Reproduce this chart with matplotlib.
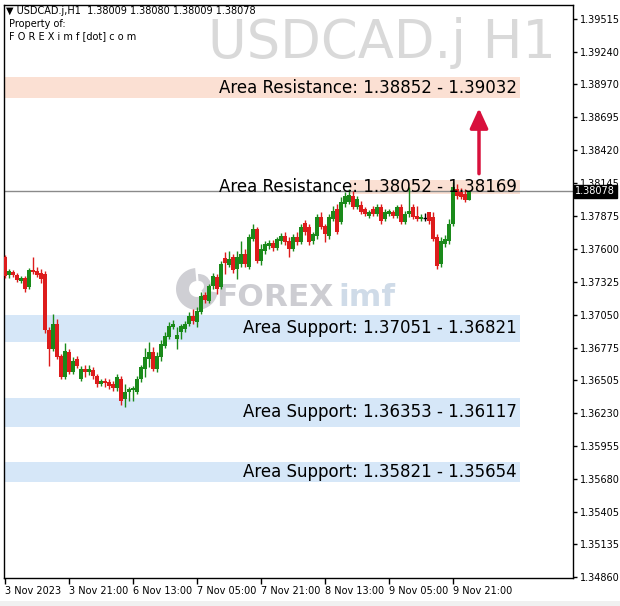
import matplotlib
matplotlib.use('Agg')
import matplotlib.pyplot as plt
from matplotlib.patches import Rectangle, Wedge
from matplotlib.transforms import blended_transform_factory, IdentityTransform

# ---------------- data ----------------
opens = [1.37529, 1.37379, 1.37404, 1.37379, 1.37330, 1.37355, 1.37280, 1.37421, 1.37413, 1.37396,
         1.37388, 1.36922, 1.36765, 1.36972, 1.36706, 1.36532, 1.36740, 1.36573, 1.36681, 1.36515,
         1.36598, 1.36573, 1.36590, 1.36540, 1.36474, 1.36499, 1.36490, 1.36474, 1.36440, 1.36515,
         1.36349, 1.36407, 1.36424, 1.36407, 1.36515, 1.36598, 1.36681, 1.36740, 1.36598, 1.36698,
         1.36789, 1.36864, 1.36947, 1.36848, 1.36906, 1.36931, 1.36972, 1.37039, 1.36989, 1.37072,
         1.37213, 1.37164, 1.37288, 1.37363, 1.37280, 1.37521, 1.37463, 1.37529, 1.37429, 1.37471,
         1.37554, 1.37446, 1.37679, 1.37762, 1.37496, 1.37579, 1.37620, 1.37645, 1.37604, 1.37662,
         1.37704, 1.37662, 1.37596, 1.37695, 1.37654, 1.37812, 1.37778, 1.37662, 1.37704, 1.37861,
         1.37787, 1.37704, 1.37845, 1.37928, 1.37820, 1.37969, 1.37986, 1.38036, 1.37945, 1.37961,
         1.37928, 1.37870, 1.37928, 1.37886, 1.37945, 1.37845, 1.37886, 1.37903, 1.37870, 1.37945,
         1.37820, 1.37886, 1.37945, 1.37870, 1.37845, 1.37857, 1.37903, 1.37861, 1.37695, 1.37471,
         1.37637, 1.37662, 1.37803, 1.38094, 1.38069, 1.38053, 1.38009]
closes = [1.37371, 1.37413, 1.37379, 1.37338, 1.37355, 1.37263, 1.37421, 1.37404, 1.37379, 1.37346,
          1.36922, 1.36765, 1.36972, 1.36698, 1.36532, 1.36748, 1.36573, 1.36665, 1.36623, 1.36598,
          1.36573, 1.36598, 1.36540, 1.36474, 1.36499, 1.36482, 1.36457, 1.36440, 1.36532, 1.36332,
          1.36407, 1.36432, 1.36440, 1.36515, 1.36615, 1.36698, 1.36740, 1.36598, 1.36706, 1.36806,
          1.36873, 1.36956, 1.36972, 1.36881, 1.36956, 1.36972, 1.37039, 1.36997, 1.37080, 1.37205,
          1.37172, 1.37288, 1.37371, 1.37263, 1.37471, 1.37479, 1.37512, 1.37421, 1.37529, 1.37554,
          1.37471, 1.37695, 1.37762, 1.37496, 1.37596, 1.37637, 1.37645, 1.37604, 1.37679, 1.37704,
          1.37654, 1.37596, 1.37695, 1.37654, 1.37778, 1.37737, 1.37654, 1.37720, 1.37861, 1.37778,
          1.37720, 1.37861, 1.37911, 1.37737, 1.37986, 1.38036, 1.38044, 1.37945, 1.38011, 1.37903,
          1.37886, 1.37903, 1.37886, 1.37945, 1.37828, 1.37903, 1.37911, 1.37870, 1.37945, 1.37820,
          1.37886, 1.37911, 1.37861, 1.37845, 1.37861, 1.37857, 1.37828, 1.37679, 1.37454, 1.37662,
          1.37679, 1.37803, 1.38111, 1.38036, 1.38028, 1.38003, 1.38078]
highs = [1.37546, 1.37429, 1.37421, 1.37396, 1.37371, 1.37371, 1.37438, 1.37529, 1.37446, 1.37429,
         1.37413, 1.36947, 1.37055, 1.37014, 1.36723, 1.36814, 1.36765, 1.36698, 1.36706, 1.36623,
         1.36632, 1.36632, 1.36615, 1.36557, 1.36515, 1.36524, 1.36515, 1.36499, 1.36557, 1.36540,
         1.36474, 1.36449, 1.36457, 1.36540, 1.36632, 1.36773, 1.36823, 1.36781, 1.36740, 1.36839,
         1.36906, 1.36989, 1.37006, 1.36947, 1.36972, 1.36997, 1.37072, 1.37097, 1.37114, 1.37238,
         1.37238, 1.37305, 1.37396, 1.37388, 1.37496, 1.37571, 1.37579, 1.37554, 1.37579, 1.37662,
         1.37596, 1.37720, 1.37803, 1.37778, 1.37637, 1.37662, 1.37670, 1.37670, 1.37695, 1.37729,
         1.37737, 1.37695, 1.37720, 1.37737, 1.37803, 1.37837, 1.37803, 1.37737, 1.37886, 1.37903,
         1.37803, 1.37886, 1.37953, 1.37969, 1.38028, 1.38069, 1.38094, 1.38078, 1.38036, 1.37994,
         1.37945, 1.37920, 1.37953, 1.37969, 1.37969, 1.37928, 1.37928, 1.37920, 1.37961, 1.37969,
         1.37911, 1.38111, 1.37969, 1.37953, 1.37886, 1.37895, 1.37903, 1.37903, 1.37720, 1.37695,
         1.37712, 1.37845, 1.38152, 1.38136, 1.38102, 1.38094, 1.38080]
lows = [1.37355, 1.37355, 1.37363, 1.37321, 1.37313, 1.37238, 1.37263, 1.37388, 1.37363, 1.37313,
        1.36897, 1.36623, 1.36748, 1.36681, 1.36515, 1.36515, 1.36557, 1.36557, 1.36607, 1.36499,
        1.36532, 1.36548, 1.36515, 1.36449, 1.36457, 1.36449, 1.36432, 1.36416, 1.36416, 1.36299,
        1.36283, 1.36332, 1.36332, 1.36391, 1.36490, 1.36532, 1.36615, 1.36582, 1.36573, 1.36665,
        1.36773, 1.36848, 1.36931, 1.36765, 1.36848, 1.36906, 1.36956, 1.36972, 1.36947, 1.37055,
        1.37147, 1.37147, 1.37263, 1.37222, 1.37263, 1.37388, 1.37446, 1.37396, 1.37346, 1.37446,
        1.37446, 1.37429, 1.37662, 1.37479, 1.37463, 1.37554, 1.37596, 1.37579, 1.37587, 1.37637,
        1.37629, 1.37529, 1.37579, 1.37629, 1.37637, 1.37712, 1.37629, 1.37637, 1.37679, 1.37762,
        1.37654, 1.37679, 1.37828, 1.37720, 1.37803, 1.37945, 1.37969, 1.37928, 1.37928, 1.37886,
        1.37870, 1.37853, 1.37870, 1.37870, 1.37803, 1.37828, 1.37870, 1.37853, 1.37853, 1.37803,
        1.37803, 1.37861, 1.37845, 1.37828, 1.37828, 1.37828, 1.37803, 1.37662, 1.37429, 1.37446,
        1.37612, 1.37637, 1.37787, 1.38011, 1.38011, 1.37986, 1.38009]

ytick_labels = ['1.39515', '1.39240', '1.38970', '1.38695', '1.38420', '1.38145', '1.37875',
                '1.37600', '1.37325', '1.37050', '1.36775', '1.36505', '1.36230', '1.35955',
                '1.35680', '1.35405', '1.35135', '1.34860']
xtick_labels = ['3 Nov 2023', '3 Nov 21:00', '6 Nov 13:00', '7 Nov 05:00', '7 Nov 21:00',
                '8 Nov 13:00', '9 Nov 05:00', '9 Nov 21:00']
xtick_bars = [0, 16, 32, 48, 64, 80, 96, 112]

resistance_zones = [(1.38852, 1.39032), (1.38052, 1.38169)]
support_zones = [(1.37051, 1.36821), (1.36353, 1.36117), (1.35821, 1.35654)]
current_price = 1.38078
header = '\u25BC USDCAD.j,H1  1.38009 1.38080 1.38009 1.38078'
symbol_title = 'USDCAD.j H1'

# ---------------- styles ----------------
GREEN = '#1a8a1a'
RED = '#dd1c1c'
RES_COLOR = '#fbe0d3'
SUP_COLOR = '#d6e7f8'
ARROW_COLOR = '#d8103c'
LOGO_GREY = '#cfcfd4'

fig = plt.figure(figsize=(6.2, 6.06), dpi=100)
fig.patch.set_facecolor('white')
W, H = 620.0, 606.0
ax = fig.add_axes([4 / W, 1 - 578 / H, (573 - 4) / W, (578 - 5) / H])
ax.set_facecolor('white')

ymin, ymax = 1.34855, 1.39631
xmin, xmax = -0.25, 142.0
ax.set_xlim(xmin, xmax)
ax.set_ylim(ymin, ymax)

# zones
zone_right = 128.75
for i, (a, b) in enumerate(resistance_zones):
    lo, hi = min(a, b), max(a, b)
    x0 = xmin if i == 0 else 86.25
    ax.add_patch(Rectangle((x0, lo), zone_right - x0, hi - lo, facecolor=RES_COLOR,
                           edgecolor='none', zorder=1))
for a, b in support_zones:
    lo, hi = min(a, b), max(a, b)
    ax.add_patch(Rectangle((xmin, lo), zone_right - xmin, hi - lo, facecolor=SUP_COLOR,
                           edgecolor='none', zorder=1))

# watermark logo (drawn in pixel coordinates)
idt = IdentityTransform()
cx, cy = 197, H - 289
ax.add_patch(Wedge((cx, cy), 21, 95, 350, width=13, facecolor=LOGO_GREY, edgecolor='none',
                   transform=idt, zorder=1.5))
ax.add_patch(Wedge((cx + 2, cy + 3), 12, 300, 95, width=7, facecolor=LOGO_GREY,
                   edgecolor='none', transform=idt, zorder=1.5))
ax.text(0.372, 0.49, 'FOREX', transform=ax.transAxes, fontsize=22.5, fontweight='bold',
        color='#cdcdd2', ha='left', va='center', zorder=1.5)
ax.text(0.587, 0.49, 'imf', transform=ax.transAxes, fontsize=22.5, fontweight='bold',
        color='#cfdbe8', ha='left', va='center', zorder=1.5)

# big title watermark
fig.text(556 / W, 1 - 43 / H, symbol_title, fontsize=38, color='#d9d9d9',
         ha='right', va='center', zorder=0)

# current price line
ax.axhline(current_price, color='#8a8a8a', lw=1.0, zorder=2)

# candles
for i in range(len(opens)):
    o, c, h, l = opens[i], closes[i], highs[i], lows[i]
    if c > o:
        col = GREEN
    elif c < o:
        col = RED
    else:
        col = 'black'
    ax.vlines(i, l, h, color=col, lw=1.0, zorder=3)
    bh = abs(c - o)
    if bh < 0.00003:
        ax.hlines(o, i - 0.45, i + 0.45, color=col, lw=1.0, zorder=3)
    else:
        ax.add_patch(Rectangle((i - 0.4, min(o, c)), 0.8, bh, facecolor=col,
                               edgecolor='none', zorder=3))

# zone labels
labels = ['Area Resistance: %.5f - %.5f' % resistance_zones[0],
          'Area Resistance: %.5f - %.5f' % resistance_zones[1]]
labels += ['Area Support: %.5f - %.5f' % z for z in support_zones]
centers = [sum(z) / 2 for z in resistance_zones + support_zones]
for t, yc in zip(labels, centers):
    ax.text(128.0, yc, t, fontsize=12.0, color='black', ha='right', va='center', zorder=5)

# arrow
ax.annotate('', xy=(118.5, 1.38770), xytext=(118.5, 1.38225),
            arrowprops=dict(arrowstyle='-|>,head_length=1.2,head_width=0.55',
                            color=ARROW_COLOR, lw=2.5, shrinkA=0, shrinkB=0), zorder=6)

# axes style
for s in ax.spines.values():
    s.set_color('black')
    s.set_linewidth(1.0)
ax.yaxis.tick_right()
ytick_vals = [float(v) for v in ytick_labels]
ax.set_yticks(ytick_vals)
ax.set_yticklabels(ytick_labels)
ax.tick_params(axis='y', direction='out', length=3, width=1, colors='black',
               labelsize=7, pad=2)
ax.set_xticks(xtick_bars)
ax.set_xticklabels(xtick_labels, ha='left')
ax.tick_params(axis='x', direction='out', length=4, width=1, colors='black',
               labelsize=7, pad=2)
for lbl in ax.get_xticklabels():
    lbl.set_horizontalalignment('left')

# current price tag
trans = blended_transform_factory(ax.transAxes, ax.transData)
ax.text(1.004, current_price, '%.5f' % current_price, transform=trans, fontsize=7,
        color='white', ha='left', va='center', zorder=7, clip_on=False,
        bbox=dict(boxstyle='square,pad=0.15', facecolor='black', edgecolor='black'))

# header
fig.text(6 / W, 1 - 11 / H, header, fontsize=7, color='black', ha='left', va='center')
fig.text(9 / W, 1 - 24 / H, 'Property of:', fontsize=7, color='black', ha='left', va='center')
fig.text(9 / W, 1 - 36 / H, 'F O R E X i m f [dot] c o m', fontsize=7, color='black',
         ha='left', va='center')

# bottom grey strip
fig.patches.append(Rectangle((0, 0), 1, 5 / H, transform=fig.transFigure,
                             facecolor='#f0f0f0', edgecolor='none'))

fig.savefig('out.png', dpi=100)
